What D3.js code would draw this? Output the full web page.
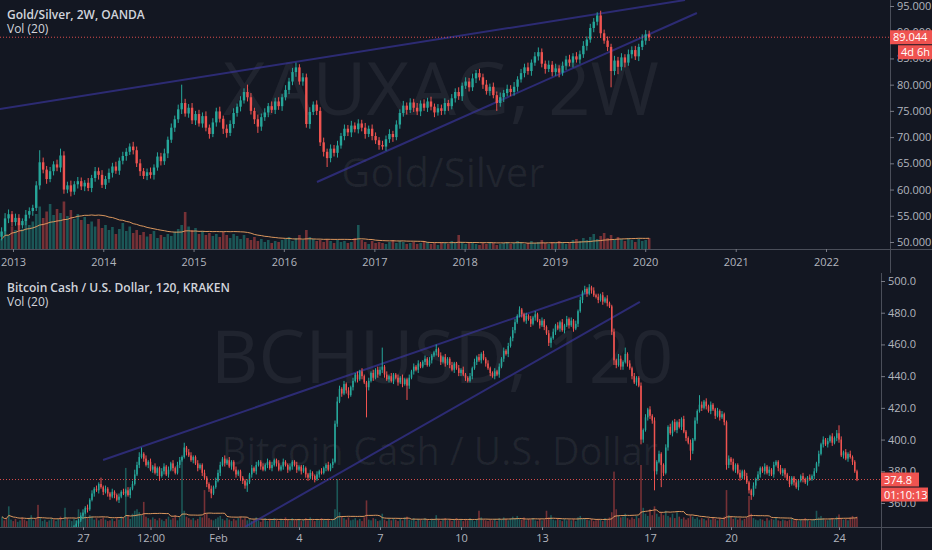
<!DOCTYPE html>
<html><head><meta charset="utf-8">
<script src="https://cdn.jsdelivr.net/npm/d3@7"></script>
<style>html,body{margin:0;padding:0;background:#131722;overflow:hidden}svg{display:block}</style>
</head><body><svg id="c" width="932" height="550"></svg>
<script>
// ---------------- DATA: Gold/Silver (XAUXAG) 2W ----------------
const goldTitle = "Gold/Silver, 2W, OANDA";
const goldFirstCandle = "2012-11-16";
const goldOpen0 = 51.0;
const goldCloses = [
52.0,54.5,55.3,53.8,54.6,53.2,54.0,55.2,55.9,56.5,
60.8,65.2,63.8,62.0,63.5,64.8,64.2,66.5,60.0,60.8,
59.6,61.0,61.6,60.6,61.3,60.3,62.2,63.5,62.8,60.9,
62.0,63.2,64.4,63.6,65.5,66.4,67.2,68.2,67.5,65.0,
63.5,62.6,63.3,62.8,64.2,66.3,65.4,66.9,69.5,71.8,
73.4,75.3,76.5,74.5,75.6,73.2,74.4,72.6,74.0,71.8,
70.6,72.8,74.9,73.5,71.6,70.8,72.5,74.6,75.8,77.0,
78.6,77.6,75.0,73.4,72.0,73.8,74.7,75.9,75.2,76.8,
75.9,77.6,79.0,80.6,82.4,83.3,80.6,81.4,72.5,74.8,
76.2,75.0,69.0,67.2,66.0,67.8,67.0,68.4,70.2,71.6,
70.9,72.2,71.5,72.6,71.8,70.6,71.6,70.2,69.4,68.5,
68.2,69.6,70.6,70.0,72.4,74.6,76.0,75.2,76.6,75.6,
74.9,76.4,75.6,76.8,75.8,74.7,75.5,75.0,76.5,75.9,
77.4,78.6,77.8,79.8,80.6,79.5,81.2,82.2,81.4,80.0,
78.8,79.6,78.0,76.5,77.6,78.4,79.2,78.6,79.6,81.0,
82.2,83.3,82.6,84.2,85.4,86.2,84.0,83.0,83.8,82.4,
83.1,82.3,83.6,84.8,84.2,85.4,84.8,85.8,87.4,88.6,
90.8,92.0,93.2,89.8,88.4,87.2,82.6,84.6,83.4,85.2,
84.2,85.8,86.6,85.4,87.2,88.4,89.6,89.044];
const goldWickUp = [
0.8,1.0,0.9,0.6,0.8,0.7,0.5,0.9,0.7,0.6, 0.8,2.3,0.9,0.7,0.8,0.6,0.9,1.3,0.8,0.7,
0.9,0.6,0.8,0.7,0.5,0.9,0.6,0.8,0.7,0.9, 0.6,0.8,0.7,0.9,0.6,0.8,0.7,0.6,0.9,0.7,
0.8,0.6,0.7,0.9,0.6,0.8,0.7,0.9,0.6,0.8, 0.7,0.9,3.5,0.8,0.7,0.9,0.6,0.8,0.7,0.9,
0.6,0.8,0.7,0.9,0.6,0.8,0.7,0.9,0.6,0.8, 0.7,1.4,0.8,0.6,0.9,0.7,0.8,0.6,0.9,0.7,
0.8,0.6,0.9,0.7,0.8,0.9,0.6,0.8,0.7,0.9, 0.6,0.8,0.7,0.9,0.6,0.8,0.7,0.9,0.6,0.8,
0.7,0.9,0.6,0.8,0.7,0.9,0.6,0.8,0.7,0.6, 0.8,0.7,0.9,0.6,0.8,0.7,0.9,0.6,0.8,0.7,
0.9,0.6,0.8,0.7,0.9,0.6,0.8,0.7,0.9,0.6, 0.8,0.7,0.9,0.6,0.8,0.7,0.9,0.6,0.8,0.7,
0.9,0.6,0.8,0.7,0.9,0.6,0.8,0.7,0.9,0.6, 0.8,0.7,0.9,0.6,0.8,0.9,0.7,0.6,0.8,0.7,
0.9,0.6,0.8,0.7,0.9,0.6,0.8,0.7,0.9,0.6, 0.8,0.7,0.6,0.9,0.7,0.8,0.6,0.9,0.7,0.8,
0.6,0.9,0.7,0.8,0.6,1.2,0.8,0.7];
const goldWickDown = [
0.7,0.6,0.9,0.8,0.7,0.9,0.6,0.8,0.7,0.9, 0.6,0.8,0.7,0.9,0.6,0.8,0.7,0.9,0.8,0.7,
0.9,0.6,0.8,0.7,0.9,0.6,0.8,0.7,0.9,0.6, 0.8,0.7,0.9,0.6,0.8,0.7,0.9,0.6,0.8,0.7,
0.9,0.6,0.8,0.7,0.9,0.6,0.8,0.7,0.9,0.6, 0.8,0.7,0.9,0.6,0.8,0.7,0.9,0.6,0.8,0.7,
0.9,0.6,0.8,0.7,1.0,0.9,0.6,0.8,0.7,0.9, 0.6,0.8,0.7,0.9,1.2,0.8,0.7,0.9,0.6,0.8,
0.7,0.9,0.6,0.8,0.7,0.9,0.6,0.8,0.7,0.9, 0.6,0.8,0.7,0.9,1.7,0.8,0.7,0.9,0.6,0.8,
0.7,0.9,0.6,0.8,0.7,0.9,0.6,0.8,0.7,0.9, 0.6,0.8,0.7,0.9,0.6,0.8,0.7,0.9,0.6,0.8,
0.7,0.9,0.6,0.8,0.7,0.9,0.6,0.8,0.7,0.9, 0.6,0.8,0.7,0.9,0.6,0.8,0.7,0.9,0.6,0.8,
0.7,0.9,0.6,1.5,0.7,0.9,0.6,0.8,0.7,0.9, 0.6,0.8,0.7,0.9,0.6,0.8,0.7,0.9,0.6,0.8,
0.7,0.9,0.6,0.8,0.7,0.9,0.6,0.8,0.7,0.9, 0.6,0.8,0.7,0.9,0.6,0.8,3.1,0.8,1.4,0.7,
0.9,0.6,0.8,0.7,0.9,0.6,0.8,0.7];
const goldVolume = [
20,35,28,45,38,52,40,60,48,55, 70,85,62,75,90,68,80,72,95,66,
78,60,70,58,64,50,55,45,60,42, 48,38,44,30,40,52,36,45,32,38,
28,34,25,30,36,22,28,24,30,26, 35,40,48,74,45,38,42,30,36,28,
32,26,30,24,34,28,22,30,26,20, 28,22,18,24,16,20,14,18,12,16,
14,18,20,24,16,22,28,18,38,24, 20,16,18,14,20,16,12,18,14,16,
12,14,22,48,18,14,10,16,12,14, 12,10,14,18,12,16,14,10,12,14,
10,12,16,14,10,12,8,14,12,10, 16,12,28,14,10,12,14,10,8,12,
10,14,12,8,10,12,14,10,12,16, 14,10,12,16,12,14,18,12,10,14,
12,16,14,10,12,18,20,16,22,18, 24,30,20,26,32,22,28,18,24,20,
16,22,18,14,20,16,18,22];
const goldPriceTicks = [50,55,60,65,70,75,80,85,90,95];
const goldLast = 89.044;
const goldCountdown = "4d 6h";
const goldWatermark = ["XAUXAG, 2W", "Gold/Silver"];
const goldTrendlines = [
  [["2012-11-08", 75.36], ["2020-06-10", 96.14]],
  [["2016-05-14", 61.44], ["2020-07-28", 93.67]]
];

// ---------------- DATA: Bitcoin Cash (BCHUSD) 120 ----------------
const bchTitle = "Bitcoin Cash / U.S. Dollar, 120, KRAKEN";
const bchFirstCandle = "2020-01-24T00:00:00Z";
const bchOpen0 = 332;
const bchCloses = [
334,331,329,333,336,332,330,334,337,335,332,330,
333,336,338,335,331,334,337,339,336,338,340,337,
339,341,338,340,342,339,341,343,345,347,349,352,
354,357,356,362,366,369,368,372,370,367,369,366,
364,367,365,362,364,367,366,368,365,369,372,378,
384,389,391,388,384,386,381,383,379,382,377,380,
383,378,381,385,382,379,384,387,389,395,392,390,
387,389,385,382,384,379,376,372,369,366,370,374,
379,384,388,385,387,383,386,381,378,380,376,374,
371,373,378,382,380,384,386,383,381,384,386,382,
384,387,385,381,383,386,384,381,383,386,384,381,
383,380,382,378,376,379,377,375,378,380,379,382,
384,381,384,386,410,424,432,429,435,431,428,433,
437,441,438,443,440,436,433,437,442,439,444,441,
444,446,441,438,440,437,441,439,436,439,435,438,
434,439,443,446,444,448,446,449,451,447,450,453,
455,457,453,449,452,448,451,447,444,448,445,442,
444,441,439,437,440,445,449,452,450,454,451,448,
445,442,440,443,441,446,451,456,454,459,464,469,
474,478,482,479,475,478,476,473,477,479,475,472,
475,471,467,461,464,468,472,470,474,469,472,476,
472,475,470,473,481,488,493,495,492,496,494,491,
490,488,491,487,489,486,484,468,450,447,451,446,
449,454,448,445,440,436,439,434,400,406,414,419,
415,412,380,386,391,384,379,395,408,404,411,406,
411,408,413,405,401,398,393,400,412,418,422,420,
424,421,418,422,419,415,418,414,416,411,384,388,
386,381,384,379,376,380,377,373,368,365,371,375,
378,382,380,383,379,381,378,384,386,382,379,381,
378,375,372,376,373,370,374,377,375,373,376,375,
377,380,385,391,397,400,397,399,402,398,401,404,
400,390,392,388,391,389,386,380,374.8];
const bchWickUp = [
2,1,2,1,2,1,1,2,1,2,1,1, 1,2,1,2,1,1,2,1,2,1,2,1, 1,2,1,1,2,1,1,2,1,2,1,2,
2,1,2,1,2,1,2,1,4,1,2,1, 1,2,1,1,2,1,2,1,2,1,2,3, 2,3,4,1,2,1,2,1,2,1,1,2,
2,1,2,1,2,1,2,2,1,3,1,2, 2,1,1,2,1,1,2,1,1,2,1,2, 2,2,1,2,1,2,1,1,2,1,1,1,
1,2,1,2,1,2,1,1,2,1,2,1, 2,1,1,2,1,2,1,1,2,1,1,2, 1,1,2,1,1,2,1,1,2,1,2,1,
1,2,1,2,2,3,2,1,2,1,2,1, 2,1,2,1,2,1,1,2,1,2,1,2, 2,12,1,2,1,2,1,1,2,1,2,1,
1,2,1,2,1,2,1,1,2,1,2,1, 1,3,1,2,1,2,1,1,2,1,1,2, 1,2,1,1,2,1,2,1,2,1,2,1,
2,1,1,2,1,2,1,2,1,2,1,2, 2,1,2,1,1,2,1,2,1,2,1,1, 2,1,1,2,1,2,1,2,1,2,1,2,
1,2,1,2,1,2,1,2,1,2,1,2, 1,2,1,2,1,2,1,1,2,1,3,2, 1,4,1,2,1,2,1,1,2,1,2,1,
2,1,2,1,2,1,1,2,1,2,1,2, 1,2,1,2,1,1,2,1,2,1,6,2, 1,2,1,2,1,1,2,1,2,1,1,2,
1,2,1,1,2,1,1,2,1,1,2,1, 2,1,1,2,1,2,1,2,1,1,2,1, 1,1,2,1,1,2,1,1,2,1,1,2,
1,2,1,2,1,2,1,2,1,2,1,2, 5,2,1,2,1,2,1,1,1];
const bchWickDown = [
1,2,1,2,1,1,2,1,2,1,1,2, 2,1,1,2,1,2,1,1,2,1,1,2, 1,1,2,1,2,1,1,2,1,1,2,1,
2,1,2,1,1,2,1,2,1,2,1,2, 2,1,2,1,2,1,1,2,1,2,1,1, 1,2,1,2,1,2,1,2,1,2,3,1,
2,1,2,1,2,1,1,2,1,1,2,1, 1,2,1,2,1,2,1,2,2,3,1,1, 1,2,1,2,1,1,2,1,2,1,2,2,
2,4,1,2,1,2,1,2,1,1,2,1, 2,1,2,1,1,2,1,2,1,2,1,2, 1,2,1,2,2,1,2,2,1,2,1,1,
2,1,1,2,1,2,1,2,1,2,2,1, 2,1,2,1,2,1,19,2,1,2,1,2, 1,2,2,1,2,1,2,1,2,1,2,1,
9,2,1,2,1,2,1,1,2,1,1,2, 1,2,1,2,1,2,1,2,1,2,1,2, 2,1,2,1,1,2,1,2,1,2,1,2,
1,2,1,2,1,2,1,2,1,2,1,2, 2,1,1,2,1,2,1,2,1,2,1,2, 1,2,1,2,3,1,2,1,2,1,2,1,
2,1,2,1,2,1,2,1,2,1,2,1, 1,2,1,2,1,2,1,2,3,2,1,2, 2,1,2,1,2,1,2,1,3,2,1,2,
2,2,12,2,1,14,2,1,2,1,2,1, 2,1,2,1,2,1,6,2,1,2,1,2, 1,2,1,2,1,2,1,2,1,2,3,2,
2,1,2,1,2,1,2,1,2,3,1,2, 1,2,1,2,1,2,1,2,1,2,1,2, 2,1,2,1,2,1,2,1,2,1,2,1,
1,2,1,2,1,2,1,2,1,2,1,2, 2,1,2,1,2,1,2,1,1];
const bchVolume = [
14,9,12,28,10,8,11,7,9,13,10,8, 12,16,9,11,30,13,8,10,7,9,12,10,
8,11,14,9,26,12,10,8,11,9,24,16, 18,22,12,16,14,10,12,9,11,13,10,8,
9,11,8,12,10,14,12,80,16,11,18,22, 24,20,16,34,14,12,10,13,11,9,12,10,
8,11,14,10,12,16,9,13,95,22,14,12, 10,12,9,11,14,13,50,18,12,10,9,11,
13,15,11,9,12,10,8,11,9,12,14,10, 12,9,11,8,10,13,9,7,10,12,8,11,
9,12,10,8,11,9,13,10,8,12,9,10, 11,8,10,12,9,13,10,8,11,9,12,10,
9,11,8,10,24,65,20,14,12,10,13,9, 10,12,9,11,8,13,36,10,9,12,11,8,
9,18,10,8,11,9,12,10,8,11,9,13, 14,10,9,12,8,11,10,9,12,10,8,11,
9,16,11,8,10,12,9,11,8,10,12,9, 10,8,11,9,12,10,8,11,22,13,10,9,
8,10,9,11,8,12,10,13,11,9,12,14, 12,15,11,10,13,9,11,10,12,9,8,11,
9,10,22,13,16,10,9,12,10,8,11,9, 10,9,11,8,13,15,11,12,10,9,11,8,
9,11,10,8,12,10,13,20,75,24,16,13, 14,18,12,10,13,11,15,12,84,26,18,15,
24,16,28,18,14,20,16,22,15,13,18,12, 20,14,11,13,10,12,16,14,11,13,10,12,
11,9,12,10,13,11,9,12,10,14,50,16, 14,11,13,10,12,9,11,13,42,18,12,10,
9,11,10,8,12,9,11,10,13,9,8,10, 9,8,10,12,9,11,8,10,9,12,10,8,
9,11,22,13,15,12,10,9,11,12,10,14, 17,12,10,11,9,13,15,12,14];
const bchPriceTicks = [360,380,400,420,440,460,480,500];
const bchTimeTicks = ["2020-01-27T00:00:00Z","2020-01-29T12:00:00Z","2020-02-01T00:00:00Z","2020-02-04T00:00:00Z","2020-02-07T00:00:00Z","2020-02-10T00:00:00Z","2020-02-13T00:00:00Z","2020-02-17T00:00:00Z","2020-02-20T00:00:00Z","2020-02-24T00:00:00Z"];
const bchTimeLabels = ["27","12:00","Feb","4","7","10","13","17","20","24"];
const bchLast = 374.8;
const bchCountdown = "01:10:13";
const bchWatermark = ["BCHUSD, 120", "Bitcoin Cash / U.S. Dollar"];
const bchTrendlines = [
  [["2020-01-27T17:50:00Z", 387.1], ["2020-02-14T18:40:00Z", 493.1]],
  [["2020-02-02T00:00:00Z", 344.9], ["2020-02-16T15:00:00Z", 486.8]]
];
const volLength = 20;

// ---------------- RENDER ----------------
const UP = "#26a69a", DN = "#ef5350", BG = "#131722";
const TXT = "#b2b5be", FONT = "'Open Sans', 'Noto Sans', sans-serif";
const svg = d3.select("#c");
svg.append("rect").attr("width", 932).attr("height", 550).attr("fill", BG);
const defs = svg.append("defs");

function candles(closes, open0, up, down) {
  return closes.map((c, i) => {
    const o = i ? closes[i - 1] : open0;
    return { o, c, h: Math.max(o, c) + up[i], l: Math.min(o, c) - down[i] };
  });
}
function sma(arr, n) {
  return arr.map((v, i) => d3.mean(arr.slice(Math.max(0, i - n + 1), i + 1)));
}

function panel(cfg) {
  const id = cfg.id;
  defs.append("clipPath").attr("id", id).append("rect")
    .attr("x", 0).attr("y", cfg.top).attr("width", cfg.axisX).attr("height", cfg.bottom - cfg.top);
  const g = svg.append("g").attr("clip-path", `url(#${id})`);
  const x = cfg.x, y = cfg.y, yv = cfg.yv;
  const data = candles(cfg.closes, cfg.open0, cfg.up, cfg.down);
  const dates = data.map((d, i) => new Date(cfg.start.getTime() + i * cfg.step));

  // watermark
  g.append("text").attr("x", cfg.wm1[0]).attr("y", cfg.wm1[1]).attr("text-anchor", "middle")
    .attr("font-family", FONT).attr("font-size", cfg.wm1[2]).attr("fill", "#ffffff").attr("fill-opacity", 0.06)
    .text(cfg.watermark[0]);
  g.append("text").attr("x", cfg.wm2[0]).attr("y", cfg.wm2[1]).attr("text-anchor", "middle")
    .attr("font-family", FONT).attr("font-size", cfg.wm2[2]).attr("fill", "#ffffff").attr("fill-opacity", 0.06)
    .text(cfg.watermark[1]);

  // volume
  const bw = cfg.bodyW;
  g.selectAll(null).data(cfg.volume).join("rect")
    .attr("x", (v, i) => x(dates[i]) - cfg.volW / 2).attr("width", cfg.volW)
    .attr("y", v => yv(v)).attr("height", v => yv(0) - yv(v))
    .attr("fill", (v, i) => data[i].c >= data[i].o ? UP : DN).attr("fill-opacity", 0.45);
  const ma = sma(cfg.volume, volLength);
  g.append("path").datum(ma)
    .attr("d", d3.line().x((v, i) => x(dates[i])).y(v => yv(v)))
    .attr("fill", "none").attr("stroke", "#f0a464").attr("stroke-width", 1).attr("stroke-opacity", 0.9);

  // trendlines
  g.selectAll(null).data(cfg.trend).join("line")
    .attr("x1", d => x(new Date(d[0][0]))).attr("y1", d => y(d[0][1]))
    .attr("x2", d => x(new Date(d[1][0]))).attr("y2", d => y(d[1][1]))
    .attr("stroke", "#3a35a0").attr("stroke-opacity", 0.65).attr("stroke-width", 2);

  // candles
  const cg = g.append("g");
  cg.selectAll(null).data(data).join("line")
    .attr("x1", (d, i) => x(dates[i])).attr("x2", (d, i) => x(dates[i]))
    .attr("y1", d => y(d.h)).attr("y2", d => y(d.l))
    .attr("stroke", d => d.c >= d.o ? UP : DN).attr("stroke-width", 1);
  cg.selectAll(null).data(data).join("rect")
    .attr("x", (d, i) => x(dates[i]) - bw / 2).attr("width", bw)
    .attr("y", d => y(Math.max(d.o, d.c)))
    .attr("height", d => Math.max(1, Math.abs(y(d.o) - y(d.c))))
    .attr("fill", d => d.c >= d.o ? UP : DN);

  // last price dotted line
  svg.append("line").attr("x1", 0).attr("x2", cfg.axisX).attr("y1", y(cfg.last)).attr("y2", y(cfg.last))
    .attr("stroke", DN).attr("stroke-width", 1).attr("stroke-dasharray", "1,2").attr("stroke-opacity", 0.9);

  // separators
  svg.append("line").attr("x1", 0).attr("x2", 932).attr("y1", cfg.bottom + 0.5).attr("y2", cfg.bottom + 0.5)
    .attr("stroke", "#4a4e59").attr("stroke-width", 1);
  svg.append("line").attr("x1", cfg.axisX + 0.5).attr("x2", cfg.axisX + 0.5).attr("y1", cfg.top).attr("y2", cfg.top + cfg.fullH)
    .attr("stroke", "#4a4e59").attr("stroke-width", 1);

  // price axis
  const ya = svg.append("g").attr("transform", `translate(${cfg.axisX},0)`)
    .call(d3.axisRight(y).tickValues(cfg.priceTicks).tickFormat(cfg.priceFmt).tickSize(4).tickPadding(3));
  ya.select(".domain").remove();
  ya.selectAll("line").attr("stroke", "#787b86");
  ya.selectAll("text").attr("fill", TXT).attr("font-size", 11).attr("font-family", FONT);

  // time axis
  const xa = svg.append("g").attr("transform", `translate(0,${cfg.bottom})`).call(cfg.xAxis);
  xa.select(".domain").remove();
  xa.selectAll("line").attr("stroke", "#787b86");
  xa.selectAll("text").attr("fill", TXT).attr("font-size", 11).attr("font-family", FONT);

  // price label boxes
  const ly = y(cfg.last);
  svg.append("rect").attr("x", cfg.axisX).attr("y", ly - 7).attr("width", cfg.lblW1).attr("height", 14).attr("fill", DN);
  svg.append("text").attr("x", cfg.axisX + 3).attr("y", ly + 4).attr("fill", "#fff").attr("font-size", 11)
    .attr("font-family", FONT).text(cfg.priceFmt(cfg.last));
  svg.append("rect").attr("x", cfg.axisX + cfg.lbl2dx).attr("y", ly + 8).attr("width", cfg.lblW2).attr("height", 14).attr("fill", DN);
  svg.append("text").attr("x", cfg.axisX + cfg.lbl2dx + 3).attr("y", ly + 19).attr("fill", "#fff").attr("font-size", 11)
    .attr("font-family", FONT).text(cfg.countdown);

  // legend
  svg.append("text").attr("x", 7).attr("y", cfg.top + 19).attr("fill", "#d1d4dc").attr("font-size", 12)
    .attr("font-weight", 600).attr("font-family", FONT).text(cfg.title);
  svg.append("text").attr("x", 7).attr("y", cfg.top + 33).attr("fill", "#d1d4dc").attr("font-size", 12)
    .attr("font-family", FONT).text("Vol (" + volLength + ")");
}

// Top panel scales
const xTop = d3.scaleUtc().domain([Date.UTC(2013, 0, 1), Date.UTC(2022, 0, 1)]).range([13, 826]);
const yTop = d3.scaleLinear().domain([50, 95]).range([242, 6]);
const yvTop = d3.scaleLinear().domain([0, 100]).range([249, 199]);
panel({
  id: "clipTop", top: 0, bottom: 249, axisX: 890, fullH: 273,
  x: xTop, y: yTop, yv: yvTop,
  closes: goldCloses, open0: goldOpen0, up: goldWickUp, down: goldWickDown, volume: goldVolume,
  start: new Date(goldFirstCandle + "T00:00:00Z"), step: 14 * 86400000,
  bodyW: 2.4, volW: 2.6,
  watermark: goldWatermark, wm1: [441, 115, 74], wm2: [443, 187, 40],
  trend: goldTrendlines,
  priceTicks: goldPriceTicks, priceFmt: d3.format(".3f"), last: goldLast, countdown: goldCountdown,
  lblW1: 42, lbl2dx: 8, lblW2: 34,
  xAxis: d3.axisBottom(xTop).ticks(d3.utcYear.every(1)).tickFormat(d3.utcFormat("%Y")).tickSize(3).tickPadding(6),
  title: goldTitle
});

// Bottom panel scales
const xBot = d3.scaleUtc().domain([Date.UTC(2020, 0, 24), Date.UTC(2020, 1, 24)]).range([2, 839]);
const yBot = d3.scaleLinear().domain([360, 500]).range([503, 281]);
const yvBot = d3.scaleLinear().domain([0, 130]).range([527, 431]);
const bchTickDates = bchTimeTicks.map(s => new Date(s));
panel({
  id: "clipBot", top: 273, bottom: 527, axisX: 881, fullH: 277,
  x: xBot, y: yBot, yv: yvBot,
  closes: bchCloses, open0: bchOpen0, up: bchWickUp, down: bchWickDown, volume: bchVolume,
  start: new Date(bchFirstCandle), step: 2 * 3600000,
  bodyW: 1.5, volW: 1.6,
  watermark: bchWatermark, wm1: [442, 383, 74], wm2: [440, 465, 38],
  trend: bchTrendlines,
  priceTicks: bchPriceTicks, priceFmt: d3.format(".1f"), last: bchLast, countdown: bchCountdown,
  lblW1: 38, lbl2dx: 0, lblW2: 47,
  xAxis: d3.axisBottom(xBot).tickValues(bchTickDates)
    .tickFormat((d, i) => bchTimeLabels[i]).tickSize(3).tickPadding(4),
  title: bchTitle
});
</script></body></html>
